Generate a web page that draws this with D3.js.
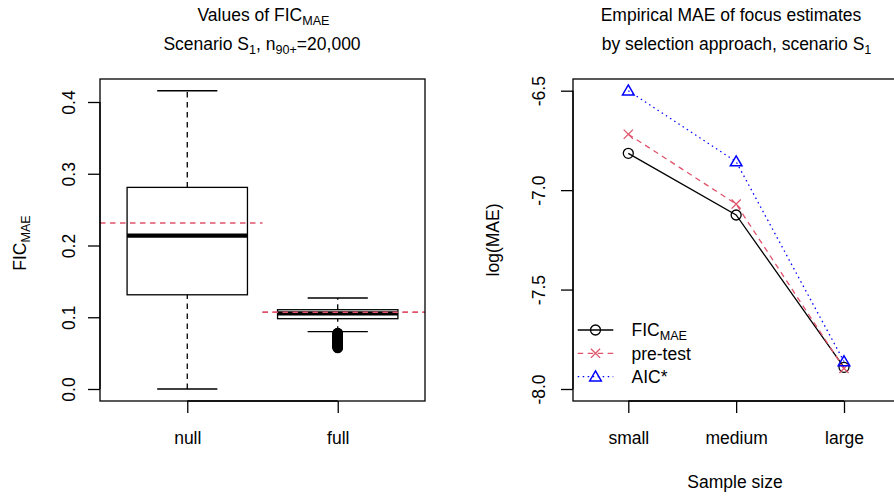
<!DOCTYPE html>
<html><head><meta charset="utf-8">
<script src="https://cdn.jsdelivr.net/npm/d3@7"></script>
<style>
body{margin:0;background:#fff;}
svg{display:block;font-family:"Liberation Sans",Arial,Helvetica,sans-serif;}
</style></head>
<body><svg id="c" width="894" height="497"></svg>
<script>
// ---------- data: left panel (boxplot of FIC_MAE) ----------
const boxGroups = ["null", "full"];
const boxLowerWhisker = [0.0, 0.0799];
const boxQ1 = [0.1313, 0.0980];
const boxMedian = [0.2137, 0.1055];
const boxQ3 = [0.2810, 0.1105];
const boxUpperWhisker = [0.4157, 0.1268];
const boxMeans = [0.2313, 0.1069];
const fullOutliers = [0.0781, 0.0776, 0.0770, 0.0764, 0.0759, 0.0753, 0.0748, 0.0741, 0.0735, 0.0729,
  0.0722, 0.0716, 0.0711, 0.0704, 0.0698, 0.0691, 0.0685, 0.0679, 0.0672, 0.0665, 0.0659, 0.0652,
  0.0646, 0.0639, 0.0632, 0.0626, 0.0619, 0.0611, 0.0604, 0.0597, 0.0590, 0.0584, 0.0578, 0.0573];
const leftYTicks = [0.0, 0.1, 0.2, 0.3, 0.4];
const leftYTickLabels = ["0.0", "0.1", "0.2", "0.3", "0.4"];

// ---------- data: right panel (log MAE) ----------
const sizes = ["small", "medium", "large"];
const ficMAE = [-6.815, -7.125, -7.891];
const preTest = [-6.719, -7.070, -7.896];
const aicStar = [-6.500, -6.857, -7.862];
const rightYTicks = [-8.0, -7.5, -7.0, -6.5];
const rightYTickLabels = ["-8.0", "-7.5", "-7.0", "-6.5"];
const seriesNames = ["FIC", "pre-test", "AIC*"];

const FS = 17.5;
const RED = "#DF536B", BLUE = "#0000FF";
const svg = d3.select("#c");

function rich(g, parts, x, y, anchor, rot) {
  const t = g.append("text").attr("font-size", FS).attr("fill", "#000")
    .attr("text-anchor", anchor || "middle");
  if (rot) t.attr("transform", `translate(${x},${y}) rotate(-90)`);
  else t.attr("x", x).attr("y", y);
  let shifted = false;
  parts.forEach(p => {
    const s = t.append("tspan").text(p.t);
    if (p.sub) { s.attr("font-size", FS * 0.72).attr("dy", shifted ? 0 : 4); shifted = true; }
    else { if (shifted) s.attr("dy", -4); shifted = false; }
  });
  return t;
}

// ================= LEFT PANEL =================
const L = {l: 100, r: 425, t: 79, b: 401};
const xL = d3.scaleLinear().domain([0.42, 2.58]).range([L.l, L.r]);
const yL = d3.scaleLinear().domain([0, 0.4]).range([389, 102]);
const gL = svg.append("g");

// means (red dashed)
const meanSpans = [[0.42, 1.5], [1.5, 2.58]];
boxGroups.forEach((g, i) => {
  gL.append("line").attr("x1", xL(meanSpans[i][0])).attr("x2", xL(meanSpans[i][1]))
    .attr("y1", yL(boxMeans[i])).attr("y2", yL(boxMeans[i]))
    .attr("stroke", RED).attr("stroke-width", 1.4).attr("stroke-dasharray", "5.5,4.5");
});

boxGroups.forEach((g, i) => {
  const cx = xL(i + 1), bw = xL(i + 1.4) - xL(i + 1), cw = xL(i + 1.2) - xL(i + 1);
  // whiskers
  [[boxLowerWhisker[i], boxQ1[i]], [boxQ3[i], boxUpperWhisker[i]]].forEach(([a, b]) => {
    gL.append("line").attr("x1", cx).attr("x2", cx).attr("y1", yL(a)).attr("y2", yL(b))
      .attr("stroke", "#000").attr("stroke-width", 1.3).attr("stroke-dasharray", "5.5,4.5");
  });
  [boxLowerWhisker[i], boxUpperWhisker[i]].forEach(v => {
    gL.append("line").attr("x1", cx - cw).attr("x2", cx + cw).attr("y1", yL(v)).attr("y2", yL(v))
      .attr("stroke", "#000").attr("stroke-width", 1.3);
  });
  gL.append("rect").attr("x", cx - bw).attr("width", 2 * bw)
    .attr("y", yL(boxQ3[i])).attr("height", yL(boxQ1[i]) - yL(boxQ3[i]))
    .attr("fill", "none").attr("stroke", "#000").attr("stroke-width", 1.3);
  gL.append("line").attr("x1", cx - bw).attr("x2", cx + bw).attr("y1", yL(boxMedian[i])).attr("y2", yL(boxMedian[i]))
    .attr("stroke", "#000").attr("stroke-width", 4.2);
});
// redraw red mean on full box on top (visible over box in reference)
gL.append("line").attr("x1", xL(1.5)).attr("x2", xL(2.58))
  .attr("y1", yL(boxMeans[1])).attr("y2", yL(boxMeans[1]))
  .attr("stroke", RED).attr("stroke-width", 1.4).attr("stroke-dasharray", "5.5,4.5");
// outliers
gL.selectAll("circle.out").data(fullOutliers).enter().append("circle")
  .attr("cx", xL(2)).attr("cy", d => yL(d)).attr("r", 4.6)
  .attr("fill", "none").attr("stroke", "#000").attr("stroke-width", 1.4);

// frame
gL.append("rect").attr("x", L.l).attr("y", L.t).attr("width", L.r - L.l).attr("height", L.b - L.t)
  .attr("fill", "none").attr("stroke", "#000").attr("stroke-width", 1.3);

// y axis
const axL = gL.append("g").attr("transform", `translate(${L.l},0)`)
  .call(d3.axisLeft(yL).tickValues(leftYTicks).tickSize(12).tickFormat((d, i) => leftYTickLabels[i]));
axL.select(".domain").attr("d", `M0,${yL(0)}V${yL(0.4)}`).attr("stroke-width", 1.3);
axL.selectAll(".tick line").attr("stroke-width", 1.3);
axL.selectAll(".tick text").attr("font-size", FS).attr("font-family", "Liberation Sans, Arial, sans-serif")
  .attr("fill", "#000").attr("x", null).attr("dy", null).attr("text-anchor", "middle")
  .attr("transform", "translate(-25,0) rotate(-90)").attr("y", 0);

// x axis
const axLx = gL.append("g").attr("transform", `translate(0,${L.b})`)
  .call(d3.axisBottom(xL).tickValues([1, 2]).tickSize(12).tickFormat((d, i) => boxGroups[i]));
axLx.select(".domain").attr("d", `M${xL(1)},0H${xL(2)}`).attr("stroke-width", 1.3);
axLx.selectAll(".tick line").attr("stroke-width", 1.3);
axLx.selectAll(".tick text").attr("font-size", FS).attr("font-family", "Liberation Sans, Arial, sans-serif")
  .attr("fill", "#000").attr("dy", null).attr("y", 43);

// labels / title
rich(gL, [{t: "FIC"}, {t: "MAE", sub: true}], 26, 243, "middle", true);
rich(gL, [{t: "Values of FIC"}, {t: "MAE", sub: true}], 263.5, 21);
rich(gL, [{t: "Scenario S"}, {t: "1", sub: true}, {t: ", n"}, {t: "90+", sub: true}, {t: "=20,000"}], 262, 50);

// ================= RIGHT PANEL =================
const R = {l: 573, r: 899, t: 79, b: 401};
const xR = d3.scaleLinear().domain([1, 3]).range([628.3, 844]);
const yR = d3.scaleLinear().domain([-8, -6.5]).range([389, 90.7]);
const gR = svg.append("g");

const series = [
  {vals: ficMAE, color: "#000", dash: null, sym: "circle"},
  {vals: preTest, color: RED, dash: "5.5,4.5", sym: "cross"},
  {vals: aicStar, color: BLUE, dash: "1.5,3.5", sym: "triangle"}
];
function drawSym(g, sym, x, y, color) {
  if (sym === "circle") {
    g.append("circle").attr("cx", x).attr("cy", y).attr("r", 5).attr("fill", "#fff")
      .attr("fill-opacity", 0).attr("stroke", color).attr("stroke-width", 1.3);
  } else if (sym === "cross") {
    const s = 4.6;
    g.append("path").attr("d", `M${x - s},${y - s}L${x + s},${y + s}M${x - s},${y + s}L${x + s},${y - s}`)
      .attr("stroke", color).attr("stroke-width", 1.3).attr("fill", "none");
  } else {
    const h = 5.8;
    g.append("path").attr("d", `M${x},${y - h}L${x + h},${y + h * 0.72}L${x - h},${y + h * 0.72}Z`)
      .attr("stroke", color).attr("stroke-width", 1.5).attr("fill", "none");
  }
}
const line = d3.line().x((d, i) => xR(i + 1)).y(d => yR(d));
series.forEach(s => {
  gR.append("path").attr("d", line(s.vals)).attr("fill", "none").attr("stroke", s.color)
    .attr("stroke-width", 1.3).attr("stroke-dasharray", s.dash);
  s.vals.forEach((v, i) => drawSym(gR, s.sym, xR(i + 1), yR(v), s.color));
});

// frame
gR.append("rect").attr("x", R.l).attr("y", R.t).attr("width", R.r - R.l).attr("height", R.b - R.t)
  .attr("fill", "none").attr("stroke", "#000").attr("stroke-width", 1.3);

const axR = gR.append("g").attr("transform", `translate(${R.l},0)`)
  .call(d3.axisLeft(yR).tickValues(rightYTicks).tickSize(12).tickFormat((d, i) => rightYTickLabels[i]));
axR.select(".domain").attr("d", `M0,${yR(-8)}V${yR(-6.5)}`).attr("stroke-width", 1.3);
axR.selectAll(".tick line").attr("stroke-width", 1.3);
axR.selectAll(".tick text").attr("font-size", FS).attr("font-family", "Liberation Sans, Arial, sans-serif")
  .attr("fill", "#000").attr("x", null).attr("dy", null).attr("text-anchor", "middle")
  .attr("transform", "translate(-28,0) rotate(-90)").attr("y", 0);

const axRx = gR.append("g").attr("transform", `translate(0,${R.b})`)
  .call(d3.axisBottom(xR).tickValues([1, 2, 3]).tickSize(12).tickFormat((d, i) => sizes[i]));
axRx.select(".domain").attr("d", `M${xR(1)},0H${xR(3)}`).attr("stroke-width", 1.3);
axRx.selectAll(".tick line").attr("stroke-width", 1.3);
axRx.selectAll(".tick text").attr("font-size", FS).attr("font-family", "Liberation Sans, Arial, sans-serif")
  .attr("fill", "#000").attr("dy", null).attr("y", 43);

rich(gR, [{t: "log(MAE)"}], 499, 240, "middle", true);
rich(gR, [{t: "Sample size"}], 735, 488);
rich(gR, [{t: "Empirical MAE of focus estimates"}], 731, 21);
rich(gR, [{t: "by selection approach, scenario S"}, {t: "1", sub: true}], 736.5, 50);

// legend
const legY = [330, 353.3, 376.7];
series.forEach((s, i) => {
  gR.append("line").attr("x1", 577.7).attr("x2", 613.3).attr("y1", legY[i]).attr("y2", legY[i])
    .attr("stroke", s.color).attr("stroke-width", 1.3).attr("stroke-dasharray", s.dash);
  drawSym(gR, s.sym, 595.5, legY[i], s.color);
});
rich(gR, [{t: "FIC"}, {t: "MAE", sub: true}], 631.5, 336, "start");
rich(gR, [{t: "pre-test"}], 631.5, 359.5, "start");
rich(gR, [{t: "AIC*"}], 631.5, 382.8, "start");
</script>
</body></html>
